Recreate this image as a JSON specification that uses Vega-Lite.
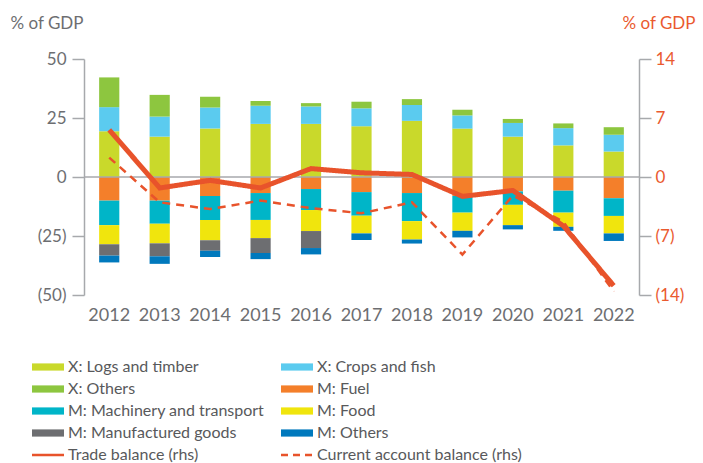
{
  "$schema": "https://vega.github.io/schema/vega-lite/v6.json",
  "width": 555,
  "height": 236,
  "autosize": {"type": "none"},
  "padding": {"left": 84, "top": 59, "right": 64, "bottom": 168},
  "config": {
    "font": "Lato",
    "view": {"stroke": null},
    "axis": {"grid": false, "labelColor": "#6d6e71", "labelFontSize": 17, "domainColor": "#a7a9ac", "tickColor": "#a7a9ac", "domainWidth": 1.5, "tickWidth": 1.5}
  },
  "datasets": {
    "bars": [
      {"year": "2012", "series": "X: Logs and timber", "ord": 1, "value": 19.4},
      {"year": "2012", "series": "X: Crops and fish", "ord": 2, "value": 10.2},
      {"year": "2012", "series": "X: Others", "ord": 3, "value": 12.6},
      {"year": "2012", "series": "M: Fuel", "ord": 4, "value": -10.0},
      {"year": "2012", "series": "M: Machinery and transport", "ord": 5, "value": -10.4},
      {"year": "2012", "series": "M: Food", "ord": 6, "value": -8.1},
      {"year": "2012", "series": "M: Manufactured goods", "ord": 7, "value": -4.8},
      {"year": "2012", "series": "M: Others", "ord": 8, "value": -2.9},
      {"year": "2013", "series": "X: Logs and timber", "ord": 1, "value": 17.1},
      {"year": "2013", "series": "X: Crops and fish", "ord": 2, "value": 8.5},
      {"year": "2013", "series": "X: Others", "ord": 3, "value": 9.2},
      {"year": "2013", "series": "M: Fuel", "ord": 4, "value": -10.0},
      {"year": "2013", "series": "M: Machinery and transport", "ord": 5, "value": -9.8},
      {"year": "2013", "series": "M: Food", "ord": 6, "value": -8.3},
      {"year": "2013", "series": "M: Manufactured goods", "ord": 7, "value": -5.5},
      {"year": "2013", "series": "M: Others", "ord": 8, "value": -3.2},
      {"year": "2014", "series": "X: Logs and timber", "ord": 1, "value": 20.5},
      {"year": "2014", "series": "X: Crops and fish", "ord": 2, "value": 9.0},
      {"year": "2014", "series": "X: Others", "ord": 3, "value": 4.5},
      {"year": "2014", "series": "M: Fuel", "ord": 4, "value": -8.0},
      {"year": "2014", "series": "M: Machinery and transport", "ord": 5, "value": -10.2},
      {"year": "2014", "series": "M: Food", "ord": 6, "value": -8.6},
      {"year": "2014", "series": "M: Manufactured goods", "ord": 7, "value": -4.5},
      {"year": "2014", "series": "M: Others", "ord": 8, "value": -2.6},
      {"year": "2015", "series": "X: Logs and timber", "ord": 1, "value": 22.5},
      {"year": "2015", "series": "X: Crops and fish", "ord": 2, "value": 7.7},
      {"year": "2015", "series": "X: Others", "ord": 3, "value": 2.0},
      {"year": "2015", "series": "M: Fuel", "ord": 4, "value": -6.8},
      {"year": "2015", "series": "M: Machinery and transport", "ord": 5, "value": -11.4},
      {"year": "2015", "series": "M: Food", "ord": 6, "value": -7.7},
      {"year": "2015", "series": "M: Manufactured goods", "ord": 7, "value": -6.3},
      {"year": "2015", "series": "M: Others", "ord": 8, "value": -2.6},
      {"year": "2016", "series": "X: Logs and timber", "ord": 1, "value": 22.5},
      {"year": "2016", "series": "X: Crops and fish", "ord": 2, "value": 7.4},
      {"year": "2016", "series": "X: Others", "ord": 3, "value": 1.4},
      {"year": "2016", "series": "M: Fuel", "ord": 4, "value": -5.1},
      {"year": "2016", "series": "M: Machinery and transport", "ord": 5, "value": -8.9},
      {"year": "2016", "series": "M: Food", "ord": 6, "value": -8.9},
      {"year": "2016", "series": "M: Manufactured goods", "ord": 7, "value": -7.2},
      {"year": "2016", "series": "M: Others", "ord": 8, "value": -2.7},
      {"year": "2017", "series": "X: Logs and timber", "ord": 1, "value": 21.5},
      {"year": "2017", "series": "X: Crops and fish", "ord": 2, "value": 7.6},
      {"year": "2017", "series": "X: Others", "ord": 3, "value": 2.8},
      {"year": "2017", "series": "M: Fuel", "ord": 4, "value": -6.4},
      {"year": "2017", "series": "M: Machinery and transport", "ord": 5, "value": -10.0},
      {"year": "2017", "series": "M: Food", "ord": 6, "value": -7.5},
      {"year": "2017", "series": "M: Others", "ord": 8, "value": -2.8},
      {"year": "2018", "series": "X: Logs and timber", "ord": 1, "value": 23.8},
      {"year": "2018", "series": "X: Crops and fish", "ord": 2, "value": 6.7},
      {"year": "2018", "series": "X: Others", "ord": 3, "value": 2.5},
      {"year": "2018", "series": "M: Fuel", "ord": 4, "value": -6.8},
      {"year": "2018", "series": "M: Machinery and transport", "ord": 5, "value": -11.9},
      {"year": "2018", "series": "M: Food", "ord": 6, "value": -7.8},
      {"year": "2018", "series": "M: Others", "ord": 8, "value": -1.7},
      {"year": "2019", "series": "X: Logs and timber", "ord": 1, "value": 20.5},
      {"year": "2019", "series": "X: Crops and fish", "ord": 2, "value": 5.6},
      {"year": "2019", "series": "X: Others", "ord": 3, "value": 2.4},
      {"year": "2019", "series": "M: Fuel", "ord": 4, "value": -8.0},
      {"year": "2019", "series": "M: Machinery and transport", "ord": 5, "value": -7.1},
      {"year": "2019", "series": "M: Food", "ord": 6, "value": -7.7},
      {"year": "2019", "series": "M: Others", "ord": 8, "value": -2.8},
      {"year": "2020", "series": "X: Logs and timber", "ord": 1, "value": 17.1},
      {"year": "2020", "series": "X: Crops and fish", "ord": 2, "value": 5.8},
      {"year": "2020", "series": "X: Others", "ord": 3, "value": 1.7},
      {"year": "2020", "series": "M: Fuel", "ord": 4, "value": -6.1},
      {"year": "2020", "series": "M: Machinery and transport", "ord": 5, "value": -5.7},
      {"year": "2020", "series": "M: Food", "ord": 6, "value": -8.6},
      {"year": "2020", "series": "M: Others", "ord": 8, "value": -1.8},
      {"year": "2021", "series": "X: Logs and timber", "ord": 1, "value": 13.4},
      {"year": "2021", "series": "X: Crops and fish", "ord": 2, "value": 7.3},
      {"year": "2021", "series": "X: Others", "ord": 3, "value": 2.0},
      {"year": "2021", "series": "M: Fuel", "ord": 4, "value": -5.8},
      {"year": "2021", "series": "M: Machinery and transport", "ord": 5, "value": -9.3},
      {"year": "2021", "series": "M: Food", "ord": 6, "value": -6.0},
      {"year": "2021", "series": "M: Others", "ord": 8, "value": -1.7},
      {"year": "2022", "series": "X: Logs and timber", "ord": 1, "value": 10.8},
      {"year": "2022", "series": "X: Crops and fish", "ord": 2, "value": 7.1},
      {"year": "2022", "series": "X: Others", "ord": 3, "value": 3.2},
      {"year": "2022", "series": "M: Fuel", "ord": 4, "value": -9.0},
      {"year": "2022", "series": "M: Machinery and transport", "ord": 5, "value": -7.5},
      {"year": "2022", "series": "M: Food", "ord": 6, "value": -7.4},
      {"year": "2022", "series": "M: Others", "ord": 8, "value": -3.2}
    ],
    "lines": [
      {"year": "2012", "series": "Trade balance (rhs)", "value": 5.6},
      {"year": "2013", "series": "Trade balance (rhs)", "value": -1.3},
      {"year": "2014", "series": "Trade balance (rhs)", "value": -0.4},
      {"year": "2015", "series": "Trade balance (rhs)", "value": -1.3},
      {"year": "2016", "series": "Trade balance (rhs)", "value": 1.0},
      {"year": "2017", "series": "Trade balance (rhs)", "value": 0.5},
      {"year": "2018", "series": "Trade balance (rhs)", "value": 0.3},
      {"year": "2019", "series": "Trade balance (rhs)", "value": -2.3},
      {"year": "2020", "series": "Trade balance (rhs)", "value": -1.6},
      {"year": "2021", "series": "Trade balance (rhs)", "value": -5.8},
      {"year": "2022", "series": "Trade balance (rhs)", "value": -12.9},
      {"year": "2012", "series": "Current account balance (rhs)", "value": 2.3},
      {"year": "2013", "series": "Current account balance (rhs)", "value": -3.0},
      {"year": "2014", "series": "Current account balance (rhs)", "value": -3.8},
      {"year": "2015", "series": "Current account balance (rhs)", "value": -2.8},
      {"year": "2016", "series": "Current account balance (rhs)", "value": -3.7},
      {"year": "2017", "series": "Current account balance (rhs)", "value": -4.3},
      {"year": "2018", "series": "Current account balance (rhs)", "value": -3.0},
      {"year": "2019", "series": "Current account balance (rhs)", "value": -9.2},
      {"year": "2020", "series": "Current account balance (rhs)", "value": -2.2},
      {"year": "2021", "series": "Current account balance (rhs)", "value": -5.3},
      {"year": "2022", "series": "Current account balance (rhs)", "value": -13.6}
    ]
  },
  "encoding": {
    "x": {
      "field": "year", "type": "ordinal",
      "scale": {"paddingInner": 0.6, "paddingOuter": 0.3},
      "axis": {"title": null, "domain": false, "ticks": false, "labelAngle": 0, "labelFontSize": 18, "labelPadding": 11, "labelOverlap": false, "labelFlush": false}
    }
  },
  "layer": [
    {
      "layer": [
        {
          "data": {"name": "bars"},
          "mark": {"type": "bar"},
          "encoding": {
            "y": {
              "field": "value", "type": "quantitative", "stack": "zero",
              "scale": {"domain": [-50, 50], "nice": false},
              "axis": {
                "values": [-50, -25, 0, 25, 50], "tickSize": 12, "labelPadding": 6,
                "labelExpr": "datum.value < 0 ? '(' + abs(datum.value) + ')' : datum.value",
                "title": "% of GDP", "titleAngle": 0, "titleX": -74, "titleY": -36, "titleAlign": "left", "titleBaseline": "middle",
                "titleFontSize": 17, "titleFontWeight": "normal", "titleColor": "#6d6e71"
              }
            },
            "order": {"field": "ord", "type": "quantitative"},
            "color": {
              "field": "series", "type": "nominal",
              "scale": {
                "domain": ["X: Logs and timber", "X: Crops and fish", "X: Others", "M: Fuel", "M: Machinery and transport", "M: Food", "M: Manufactured goods", "M: Others", "Trade balance (rhs)", "Current account balance (rhs)"],
                "range": ["#c9d92b", "#5bcbef", "#8dc63f", "#f47f2a", "#00b5c8", "#f0e50d", "#6d6e71", "#0079bd", "#e8532b", "#e8532b"]
              },
              "legend": {
                "title": null, "orient": "none", "legendX": -44, "legendY": 300, "columns": 2, "direction": "horizontal",
                "labelFontSize": 16, "labelColor": "#58595b", "labelLimit": 400, "symbolSize": 256, "labelOffset": 12, "rowPadding": 6, "columnPadding": 11,
                "encode": {
                  "symbols": {
                    "update": {
                      "shape": {"signal": "indexof(['Trade balance (rhs)','Current account balance (rhs)'], datum.value) >= 0 ? 'M-2,0H2' : 'M-2,-0.45H2V0.45H-2Z'"},
                      "fill": {"signal": "indexof(['Trade balance (rhs)','Current account balance (rhs)'], datum.value) >= 0 ? 'transparent' : scale('color', datum.value)"},
                      "stroke": {"signal": "indexof(['Trade balance (rhs)','Current account balance (rhs)'], datum.value) >= 0 ? scale('color', datum.value) : 'transparent'"},
                      "strokeWidth": {"signal": "indexof(['Trade balance (rhs)','Current account balance (rhs)'], datum.value) >= 0 ? 2.5 : 0"},
                      "strokeDash": {"signal": "datum.value === 'Current account balance (rhs)' ? [7, 5] : [1, 0]"},
                      "fillOpacity": {"value": 1},
                      "opacity": {"value": 1}
                    }
                  }
                }
              }
            }
          }
        },
        {
          "data": {"values": [{}]},
          "mark": {"type": "rule", "color": "#a7a9ac", "strokeWidth": 1.5},
          "encoding": {"y": {"datum": 0}, "x": {"value": 0}, "x2": {"value": 555}}
        }
      ]
    },
    {
      "data": {"name": "lines"},
      "mark": {"type": "line"},
      "encoding": {
        "y": {
          "field": "value", "type": "quantitative",
          "scale": {"domain": [-14, 14], "nice": false},
          "axis": {
            "orient": "right", "values": [-14, -7, 0, 7, 14], "tickSize": 12, "labelPadding": 4, "labelColor": "#ea5a2f",
            "labelExpr": "datum.value < 0 ? '(' + abs(datum.value) + ')' : datum.value",
            "title": "% of GDP", "titleAngle": 0, "titleX": 56, "titleY": -36, "titleAlign": "right", "titleBaseline": "middle",
            "titleFontSize": 17, "titleFontWeight": "normal", "titleColor": "#ea5a2f"
          }
        },
        "color": {"field": "series", "type": "nominal"},
        "strokeDash": {"field": "series", "type": "nominal", "legend": null, "scale": {"domain": ["Trade balance (rhs)", "Current account balance (rhs)"], "range": [[1, 0], [8, 6]]}},
        "size": {"field": "series", "type": "nominal", "legend": null, "scale": {"domain": ["Trade balance (rhs)", "Current account balance (rhs)"], "range": [5, 2.5]}}
      }
    }
  ],
  "resolve": {"scale": {"y": "independent"}}
}
